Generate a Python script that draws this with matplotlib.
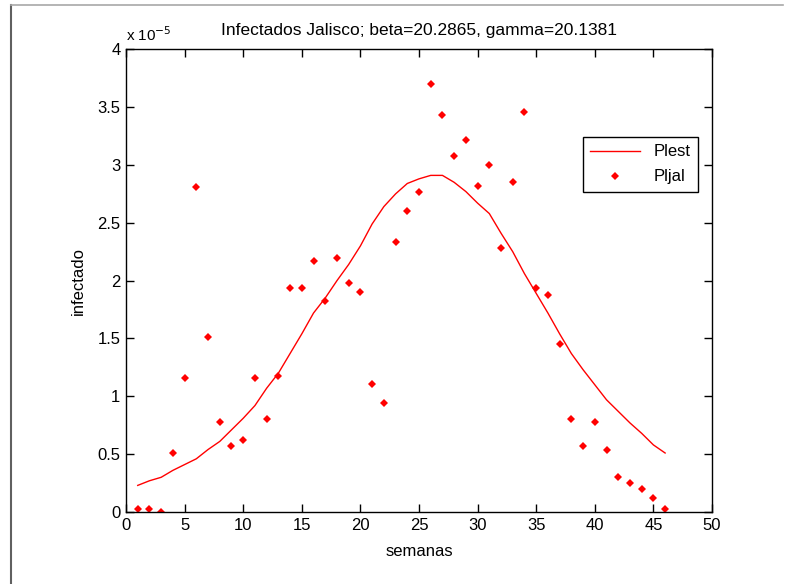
import matplotlib
matplotlib.use("Agg")
import matplotlib.pyplot as plt
from matplotlib.lines import Line2D

# weeks 1..46
semanas = list(range(1, 47))

# observed infected (units of 1e-5)
pljal = [0.03, 0.03, 0.00, 0.51, 1.16, 2.81, 1.51, 0.78, 0.57, 0.62,
         1.16, 0.80, 1.18, 1.94, 1.94, 2.17, 1.82, 2.20, 1.98, 1.90,
         1.11, 0.94, 2.33, 2.60, 2.77, 3.70, 3.43, 3.08, 3.22, 2.82,
         3.00, 2.28, 2.85, 3.46, 1.94, 1.88, 1.45, 0.80, 0.57, 0.78,
         0.54, 0.30, 0.25, 0.20, 0.12, 0.03]

# fitted curve (units of 1e-5)
plest = [0.23, 0.27, 0.30, 0.36, 0.41, 0.46, 0.54, 0.61, 0.71, 0.81,
         0.92, 1.07, 1.20, 1.37, 1.54, 1.72, 1.85, 2.00, 2.14, 2.30,
         2.49, 2.64, 2.75, 2.84, 2.88, 2.91, 2.91, 2.85, 2.77, 2.67,
         2.58, 2.41, 2.25, 2.06, 1.89, 1.72, 1.54, 1.37, 1.23, 1.10,
         0.97, 0.87, 0.77, 0.68, 0.58, 0.51]

x_ticks = list(range(0, 51, 5))
y_ticks = [0, 0.5, 1, 1.5, 2, 2.5, 3, 3.5, 4]
y_labels = ["0", "0.5", "1", "1.5", "2", "2.5", "3", "3.5", "4"]

plt.rcParams['font.family'] = ['Liberation Sans', 'DejaVu Sans']
plt.rcParams['font.size'] = 12

fig = plt.figure(figsize=(7.88, 5.84), dpi=100)
ax = fig.add_axes([126 / 788, 1 - 512 / 584, 586 / 788, 462.7 / 584])

# Plot curve and data
ax.plot(semanas, plest, color='red', linewidth=1, label='Plest')
ax.plot(semanas, pljal, linestyle='none', marker='D', markersize=4.5,
        color='red', markeredgewidth=0, label='Pljal')

# Limits and ticks
ax.set_xlim(0, 50)
ax.set_ylim(0, 4)
ax.set_xticks(x_ticks)
ax.set_yticks(y_ticks)
ax.set_yticklabels(y_labels)
ax.tick_params(direction='in', top=True, right=True, length=6, width=1, pad=4)
for s in ax.spines.values():
    s.set_linewidth(1)

# Labels
ax.set_title('Infectados Jalisco; beta=20.2865, gamma=20.1381', fontsize=12.5, pad=10)
ax.set_xlabel('semanas', labelpad=8)
ax.set_ylabel('infectado', labelpad=8)
ax.text(0.0, 1.012, r'x 10$^{-5}$', transform=ax.transAxes, ha='left', va='bottom',
        fontsize=11)

# Legend
leg = ax.legend(loc='upper right', bbox_to_anchor=(0.976, 0.8105), borderaxespad=0,
                fancybox=False, edgecolor='black', framealpha=1, handlelength=3.0,
                borderpad=0.45, labelspacing=0.6)
leg.get_frame().set_linewidth(1)

# window frame
fig.add_artist(Line2D([11 / 788, 11 / 788], [0, 1 - 5 / 584], color='#606060', linewidth=1.5,
                      transform=fig.transFigure))
fig.add_artist(Line2D([11 / 788, 783 / 788], [1 - 5 / 584, 1 - 5 / 584], color='#a8a8a8',
                      linewidth=1.2, transform=fig.transFigure))

fig.savefig('out.png', dpi=100)
